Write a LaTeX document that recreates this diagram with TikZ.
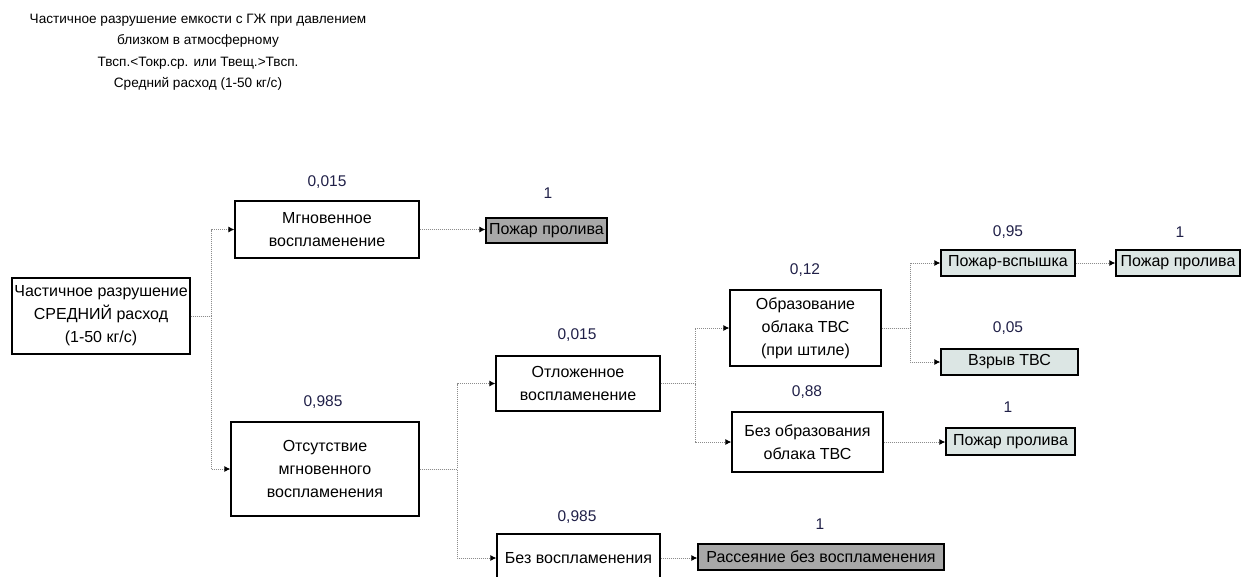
\documentclass[tikz,border=0pt]{standalone}
\usepackage{fontspec}
\setmainfont{Liberation Sans}
\usetikzlibrary{arrows.meta}
\definecolor{lightbox}{HTML}{DCE6E4}
\definecolor{darkbox}{HTML}{A8A8A8}
\definecolor{numcol}{HTML}{202048}
\definecolor{conncol}{HTML}{8C8C8C}
\tikzset{
  evbox/.style={draw=black, line width=1.3pt, fill=white, inner sep=0pt, align=center,
    font=\fontsize{16}{23}\selectfont},
  outlight/.style={evbox, fill=lightbox},
  outdark/.style={evbox, fill=darkbox},
  prob/.style={text=numcol, inner sep=0pt, font=\fontsize{15.5}{18}\selectfont},
  conn/.style={draw=conncol, line width=0.9pt, dash pattern=on 1pt off 1pt,
    -{Latex[black,length=6pt,width=6pt]}},
  titletext/.style={align=center, inner sep=0pt, font=\fontsize{13.6}{21.5}\selectfont}
}
\begin{document}
\begin{tikzpicture}[x=1pt,y=-1pt]
\useasboundingbox (0,0) rectangle (1242,576);
\begin{scope}
\clip (0,0) rectangle (1242,576);

\node[titletext] (title) at (198,52) {Частичное разрушение емкости с ГЖ при давлением\\близком в атмосферному\\Твсп.<Токр.ср. или Твещ.>Твсп.\\Средний расход (1-50 кг/с)};

% boxes
\node[evbox, minimum width=178pt, minimum height=76pt] (root) at (101,316) {Частичное разрушение\\СРЕДНИЙ расход\\(1-50 кг/с)};
\node[evbox, minimum width=184pt, minimum height=57pt] (mgn) at (327,229.5) {Мгновенное\\воспламенение};
\node[outdark, minimum width=121pt, minimum height=25pt] (pp1) at (546.5,230.5) {Пожар пролива};
\node[evbox, minimum width=188pt, minimum height=94pt] (ots) at (325,469) {Отсутствие\\мгновенного\\воспламенения};
\node[evbox, minimum width=164pt, minimum height=55pt] (otl) at (578,383.5) {Отложенное\\воспламенение};
\node[evbox, minimum width=163pt, minimum height=48pt] (bezv) at (578.5,558) {Без воспламенения};
\node[outdark, minimum width=246pt, minimum height=26pt] (ras) at (821,557) {Рассеяние без воспламенения};
\node[evbox, minimum width=151pt, minimum height=76pt] (obr) at (805.5,328) {Образование\\облака ТВС\\(при штиле)};
\node[evbox, minimum width=151pt, minimum height=60pt] (bezo) at (807.5,442) {Без образования\\облака ТВС};
\node[outlight, minimum width=134pt, minimum height=26pt] (vsp) at (1008,263) {Пожар-вспышка};
\node[outlight, minimum width=124pt, minimum height=26pt] (pp2) at (1178,263) {Пожар пролива};
\node[outlight, minimum width=137pt, minimum height=26pt] (vzr) at (1009.5,362) {Взрыв ТВС};
\node[outlight, minimum width=129pt, minimum height=27pt] (pp3) at (1010.5,441.5) {Пожар пролива};

% probabilities
\node[prob] (p1) at (327,182) {0,015};
\node[prob] (p2) at (548,193) {1};
\node[prob] (p3) at (323,402) {0,985};
\node[prob] (p4) at (577,335) {0,015};
\node[prob] (p5) at (577,517) {0,985};
\node[prob] (p6) at (820,524) {1};
\node[prob] (p7) at (805,270) {0,12};
\node[prob] (p8) at (807,392) {0,88};
\node[prob] (p9) at (1008,232) {0,95};
\node[prob] (p10) at (1180,232) {1};
\node[prob] (p11) at (1008,328) {0,05};
\node[prob] (p12) at (1008,407) {1};

% junctions
\coordinate (j1) at (211,0);
\coordinate (j2) at (457,0);
\coordinate (j3) at (695,0);
\coordinate (j4) at (910,0);

% connectors
\draw[conn] (root.east) -- (root.east -| j1) |- (mgn.west);
\draw[conn] (root.east) -- (root.east -| j1) |- (ots.west);
\draw[conn] (mgn.east) -- (mgn.east -| pp1.west);
\draw[conn] (ots.east) -- (ots.east -| j2) |- (otl.west);
\draw[conn] (ots.east) -- (ots.east -| j2) |- (bezv.west);
\draw[conn] (bezv.east) -- (bezv.east -| ras.west);
\draw[conn] (otl.east) -- (otl.east -| j3) |- (obr.west);
\draw[conn] (otl.east) -- (otl.east -| j3) |- (bezo.west);
\draw[conn] (obr.east) -- (obr.east -| j4) |- (vsp.west);
\draw[conn] (obr.east) -- (obr.east -| j4) |- (vzr.west);
\draw[conn] (vsp.east) -- (vsp.east -| pp2.west);
\draw[conn] (bezo.east) -- (bezo.east -| pp3.west);
\end{scope}
\end{tikzpicture}
\end{document}
